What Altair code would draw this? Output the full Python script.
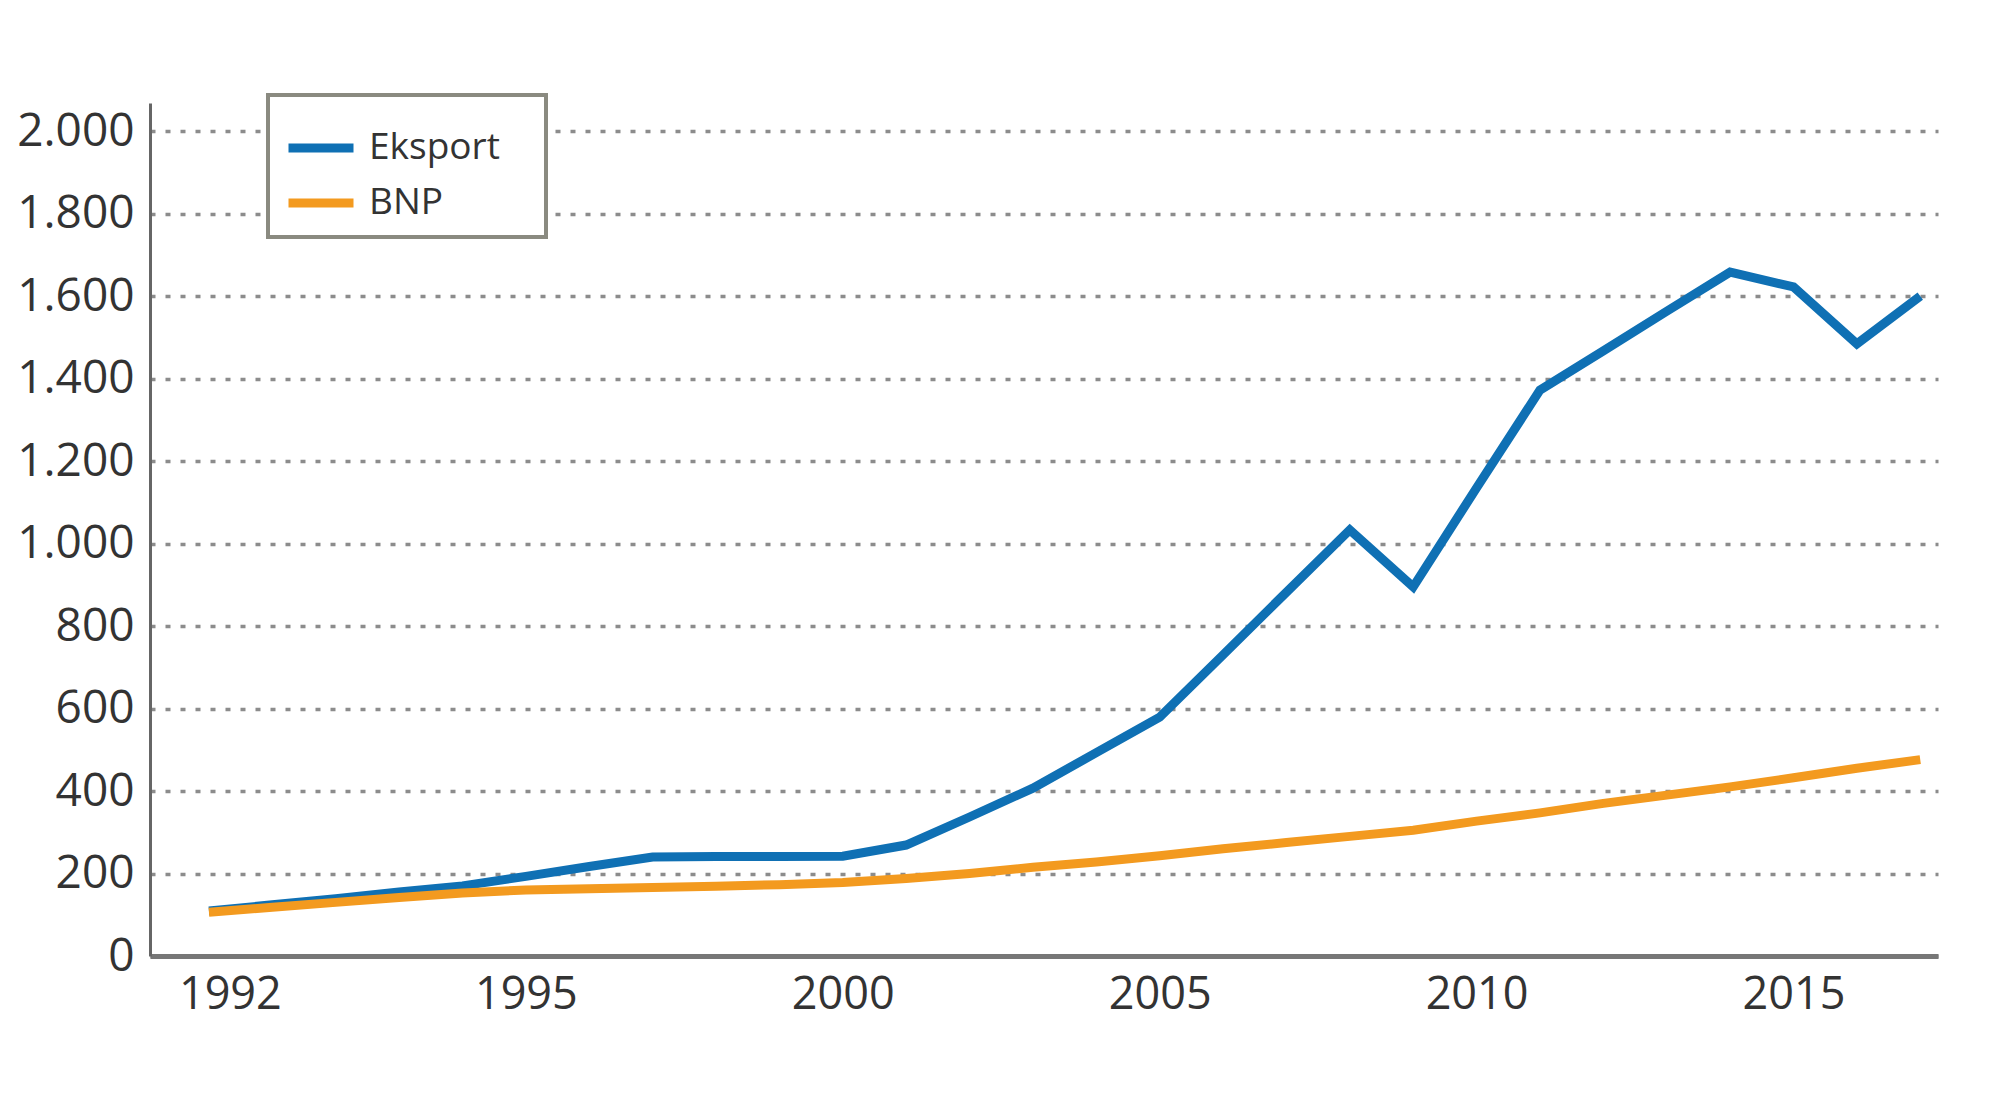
import altair as alt
import pandas as pd

years = list(range(1990, 2018))
eksport = [109, 124, 139, 155, 170, 193, 217, 240, 241, 241,
           242, 269, 337, 407, 493, 579, 730, 882, 1033, 895,
           1135, 1372, 1467, 1563, 1658, 1622, 1484, 1600]
bnp = [106, 118, 130, 142, 153, 160, 163, 166, 169, 173,
       178, 188, 200, 215, 228, 243, 260, 275, 290, 305,
       327, 347, 370, 390, 410, 432, 455, 476]
series = ["Eksport", "BNP"]
colors = ["#0f70b4", "#f39a1f"]
x_ticks = [1990.33, 1995, 2000, 2005, 2010, 2015]
x_labels = ["1992", "1995", "2000", "2005", "2010", "2015"]
y_ticks = list(range(0, 2001, 200))

rows = []
for i, y in enumerate(years):
    rows.append({"year": y, "serie": "Eksport", "value": eksport[i]})
    rows.append({"year": y, "serie": "BNP", "value": bnp[i]})
df = pd.DataFrame(rows)

label_map = "{" + ",".join(f"'{v}':'{l}'" for v, l in zip(x_ticks, x_labels)) + "}"

font = "Open Sans"

chart = (
    alt.Chart(df)
    .mark_line(strokeWidth=9, strokeJoin="miter", strokeCap="butt")
    .encode(
        x=alt.X(
            "year:Q",
            scale=alt.Scale(domain=[1989.07, 2017.28], nice=False, zero=False),
            axis=alt.Axis(
                values=x_ticks,
                labelExpr=f"{label_map}[toString(datum.value)]",
                title=None,
                grid=False,
                ticks=False,
                domainColor="#777777",
                domainWidth=5,
                labelFont=font,
                labelFontSize=45,
                labelColor="#333333",
                labelPadding=16,
                labelFlush=False,
            ),
        ),
        y=alt.Y(
            "value:Q",
            scale=alt.Scale(domain=[0, 2068], nice=False),
            axis=alt.Axis(
                values=y_ticks,
                labelExpr="replace(format(datum.value, ','), ',', '.')",
                title=None,
                grid=True,
                gridColor="#8c8c8c",
                gridWidth=3.5,
                gridDash=[5, 10],
                ticks=False,
                domainColor="#666666",
                domainWidth=3,
                labelFont=font,
                labelFontSize=46,
                labelColor="#333333",
                labelPadding=16,
                minExtent=137,
                maxExtent=137,
            ),
        ),
        color=alt.Color(
            "serie:N",
            scale=alt.Scale(domain=series, range=colors),
            sort=series,
            legend=alt.Legend(
                title="\u00a0",
                titleOrient="right",
                titleFontSize=1,
                titlePadding=30,
                orient="none",
                legendX=118,
                legendY=-8,
                direction="vertical",
                symbolType="stroke",
                symbolStrokeWidth=9,
                symbolSize=4225,
                labelFont=font,
                labelFontSize=37,
                labelColor="#333333",
                labelOffset=11,
                strokeColor="#8a8a80",
                fillColor="white",
                padding=16,
            ),
        ),
        order=alt.Order("serie:N", sort="ascending"),
    )
    .properties(
        width=1788,
        height=853,
        background="white",
        padding={"left": 5, "top": 85, "right": 20, "bottom": 5},
    )
    .configure_view(strokeWidth=0, stroke="transparent")
    .configure_legend(rowPadding=0, strokeWidth=4)
)

chart.save("out.html", embed_options={"renderer": "svg", "actions": False})
